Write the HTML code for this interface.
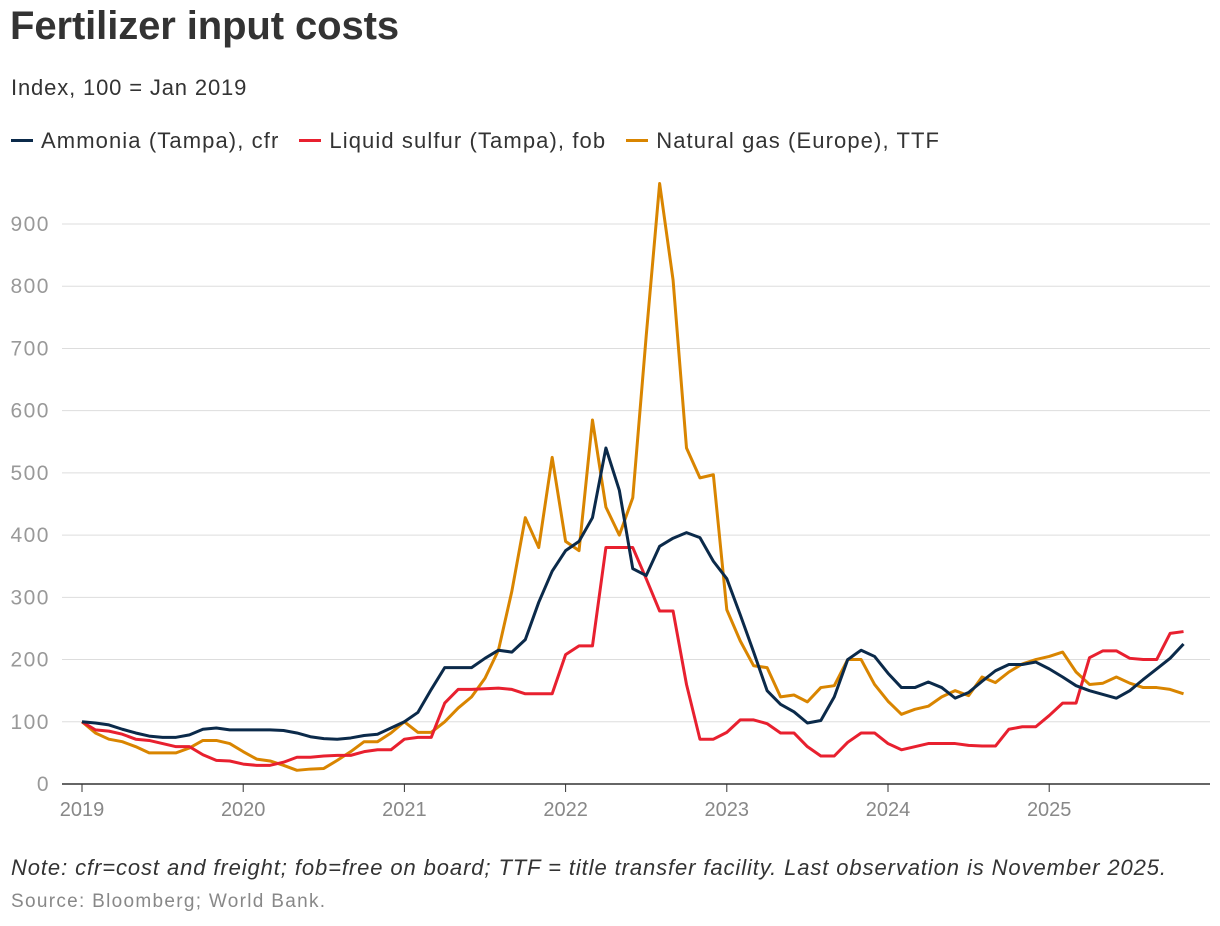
<!DOCTYPE html>
<html><head><meta charset="utf-8">
<style>
body{margin:0;background:#fff;font-family:"Liberation Sans",Arial,sans-serif;color:#333;}
#wrap{position:relative;width:1220px;height:926px;overflow:hidden;}
.title{position:absolute;left:10px;top:4px;font-size:40px;font-weight:bold;letter-spacing:-0.1px;color:#333;}
.sub{position:absolute;left:11px;top:75px;font-size:22px;letter-spacing:0.85px;color:#333;}
.legend{position:absolute;left:11px;top:128px;font-size:22px;letter-spacing:1.1px;color:#333;display:flex;gap:20px;}
.legend span.sw{display:inline-block;width:22px;height:3px;vertical-align:middle;margin-right:8px;position:relative;top:-2px;}
.note{position:absolute;left:11px;top:855px;font-size:22px;letter-spacing:0.9px;font-style:italic;color:#333;}
.src{position:absolute;left:11px;top:891px;font-size:19px;letter-spacing:1.3px;color:#888;}
</style></head><body>
<div id="wrap">
<div class="title">Fertilizer input costs</div>
<div class="sub">Index, 100 = Jan 2019</div>
<div class="legend">
<div><span class="sw" style="background:#0b2a4a"></span>Ammonia (Tampa), cfr</div>
<div><span class="sw" style="background:#e8202f"></span>Liquid sulfur (Tampa), fob</div>
<div><span class="sw" style="background:#d98500"></span>Natural gas (Europe), TTF</div>
</div>
<svg id="chart" width="1220" height="926" style="position:absolute;left:0;top:0"></svg>
<div class="note">Note: cfr=cost and freight; fob=free on board; TTF = title transfer facility. Last observation is November 2025.</div>
<div class="src">Source: Bloomberg; World Bank.</div>
</div>
<script>
const yTicks=[0,100,200,300,400,500,600,700,800,900];
const years=["2019","2020","2021","2022","2023","2024","2025"];
const ammonia=[100,98,95,88,82,77,75,75,79,88,90,87,
87,87,87,86,82,76,73,72,74,78,80,90,
100,115,152,187,187,187,202,215,212,232,292,342,
375,390,428,540,472,346,335,382,395,404,396,358,
330,272,212,150,128,116,98,102,140,200,215,205,
178,155,155,164,155,138,147,165,182,192,192,196,
185,172,158,150,144,138,150,168,185,202,225];
const sulfur=[100,87,85,80,72,70,65,60,60,47,38,37,
32,30,30,35,43,43,45,46,46,52,55,55,
72,75,75,130,152,152,153,154,152,145,145,145,
208,222,222,380,380,380,330,278,278,160,72,72,
83,103,103,97,82,82,60,45,45,67,82,82,
65,55,60,65,65,65,62,61,61,88,92,92,
110,130,130,203,214,214,202,200,200,242,245];
const gas=[100,82,72,68,60,50,50,50,58,70,70,65,
52,40,37,30,22,24,25,38,52,68,68,82,
100,83,83,100,122,140,170,215,310,428,380,525,
390,375,585,445,400,460,720,965,810,540,492,497,
280,230,190,187,140,143,132,155,158,200,200,160,
133,112,120,125,140,150,142,172,163,180,193,200,
205,212,180,160,162,172,162,155,155,152,145];
const NS="http://www.w3.org/2000/svg";
const svg=document.getElementById('chart');
const x=i=>82+i*(161.2/12);
const y=v=>784-v*(560/900);
function mk(t,a){const e=document.createElementNS(NS,t);for(const k in a)e.setAttribute(k,a[k]);svg.appendChild(e);return e;}
yTicks.forEach(v=>{
 const g=mk('line',{x1:62,x2:1210,y1:y(v),y2:y(v),stroke:v===0?'#333':'#ddd','stroke-width':v===0?1.5:1});
 
 
 const t=mk('text',{x:50,y:y(v)+7,'text-anchor':'end','font-size':21,'letter-spacing':1.5,fill:'#999','font-family':'Liberation Sans, sans-serif'});
 t.textContent=v;
 
 
});
years.forEach((yr,k)=>{
 const xx=x(k*12);
 const l=mk('line',{x1:xx,x2:xx,y1:784,y2:792,stroke:'#333','stroke-width':1});
 
 
 const t=mk('text',{x:xx,y:816,'text-anchor':'middle','font-size':20,fill:'#888','font-family':'Liberation Sans, sans-serif'});
 t.textContent=yr;
 
 
});
function line(d,c,n){
 const p=mk('polyline',{points:d.map((v,i)=>x(i)+','+y(v)).join(' '),fill:'none',stroke:c,'stroke-width':3,'stroke-linejoin':'round'});
 
 
}
line(gas,'#d98500','line-natural-gas');
line(sulfur,'#e8202f','line-liquid-sulfur');
line(ammonia,'#0b2a4a','line-ammonia');
</script>
</body></html>
